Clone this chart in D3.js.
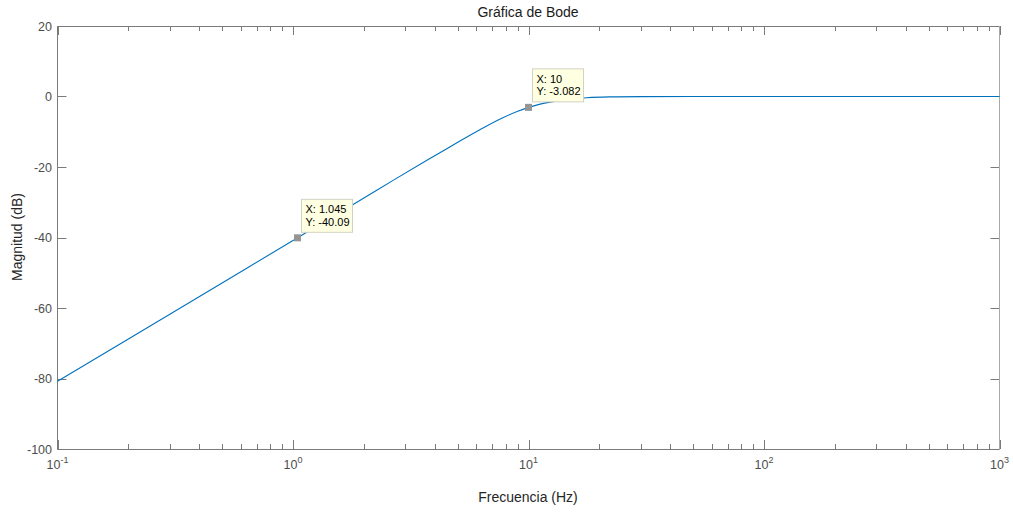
<!DOCTYPE html>
<html>
<head>
<meta charset="utf-8">
<script src="https://cdn.jsdelivr.net/npm/d3@7"></script>
<style>
  html, body { margin: 0; padding: 0; background: #fff; }
  svg { display: block; font-family: "Liberation Sans", Arial, Helvetica, sans-serif; }
</style>
</head>
<body>
<div id="chart"></div>
<script>
// Magnitude response
const freqs = [0.1, 0.2, 0.5, 1, 1.045, 1.5, 2, 2.66, 3.75, 4.5, 5.64, 6.5, 7.82, 9, 10, 11, 12.7, 15, 17.7, 22, 30, 50, 100, 1000];
const magDb = [-80.8, -68.8, -52.9, -40.85, -40.09, -33.8, -28.8, -23.8, -17.9, -14.8, -11.0, -8.7, -5.95, -4.2, -3.08, -2.3, -1.45, -0.75, -0.35, -0.12, -0.03, 0, 0, 0];

// Data tips shown on the curve
const tipX = [1.045, 10];
const tipY = [-40.09, -3.082];
const tipLabels = [["X: 1.045", "Y: -40.09"], ["X: 10", "Y: -3.082"]];

const xMajor = [0.1, 1, 10, 100, 1000];
const xExp = ["-1", "0", "1", "2", "3"];
const yTicks = [-100, -80, -60, -40, -20, 0, 20];

const width = 1013, height = 512;
const pLeft = 57.5, pRight = 999.5, pTop = 26, pBottom = 449;

const lineBlue = "#0072bd";
const axisGrey = "#7a7a7a";
const textGrey = "#4d4d4d";

const svg = d3.select("#chart").append("svg")
    .attr("width", width).attr("height", height)
    .attr("viewBox", `0 0 ${width} ${height}`);

const x = d3.scaleLog().domain([0.1, 1000]).range([pLeft, pRight]);
const y = d3.scaleLinear().domain([-100, 20]).range([pBottom, pTop]);

// minor ticks of each decade
const xMinor = [];
for (let d = 0; d < 4; d++) {
    for (let k = 2; k <= 9; k++) xMinor.push(0.1 * Math.pow(10, d) * k);
}

// --- ticks (inward, MATLAB style) ---
const tickLayer = svg.append("g").attr("stroke", axisGrey).attr("stroke-width", 1);

function vTicks(vals, len) {
    tickLayer.selectAll(null).data(vals).enter().append("line")
        .attr("x1", d => Math.round(x(d)) + 0.5).attr("x2", d => Math.round(x(d)) + 0.5)
        .attr("y1", pBottom).attr("y2", pBottom - len);
    tickLayer.selectAll(null).data(vals).enter().append("line")
        .attr("x1", d => Math.round(x(d)) + 0.5).attr("x2", d => Math.round(x(d)) + 0.5)
        .attr("y1", pTop).attr("y2", pTop + len);
}
vTicks(xMinor, 5);
vTicks(xMajor, 9);

tickLayer.selectAll(null).data(yTicks).enter().append("line")
    .attr("x1", pLeft).attr("x2", pLeft + 9)
    .attr("y1", d => Math.round(y(d)) + 0.5).attr("y2", d => Math.round(y(d)) + 0.5);
tickLayer.selectAll(null).data(yTicks).enter().append("line")
    .attr("x1", pRight).attr("x2", pRight - 9)
    .attr("y1", d => Math.round(y(d)) + 0.5).attr("y2", d => Math.round(y(d)) + 0.5);

// --- box ---
svg.append("line").attr("x1", pLeft).attr("x2", pLeft).attr("y1", pTop).attr("y2", pBottom + 0.5).attr("stroke", axisGrey);
svg.append("line").attr("x1", pLeft).attr("x2", pRight).attr("y1", pBottom + 0.5).attr("y2", pBottom + 0.5).attr("stroke", axisGrey);
svg.append("line").attr("x1", pLeft).attr("x2", pRight).attr("y1", pTop + 0.5).attr("y2", pTop + 0.5).attr("stroke", axisGrey);
svg.append("line").attr("x1", pRight).attr("x2", pRight).attr("y1", pTop).attr("y2", pBottom + 0.5).attr("stroke", "#a8a8a8");

// --- tick labels ---
svg.append("g").selectAll("text").data(yTicks).enter().append("text")
    .attr("x", 52).attr("y", d => y(d) + 4.5)
    .attr("text-anchor", "end").attr("font-size", "12.5px").attr("fill", textGrey)
    .text(d => d);

const xl = svg.append("g").selectAll("text").data(xMajor).enter().append("text")
    .attr("x", d => x(d)).attr("y", 469)
    .attr("text-anchor", "middle").attr("font-size", "12.5px").attr("fill", textGrey);
xl.append("tspan").text("10");
xl.append("tspan").attr("dy", -6).attr("font-size", "9px").text((d, i) => xExp[i]);

// --- titles ---
svg.append("text").attr("x", 528).attr("y", 17).attr("text-anchor", "middle")
    .attr("font-size", "14px").attr("fill", "#1a1a1a").text("Gráfica de Bode");
svg.append("text").attr("x", 528).attr("y", 502).attr("text-anchor", "middle")
    .attr("font-size", "14px").attr("fill", "#262626").text("Frecuencia (Hz)");
svg.append("text").attr("transform", "translate(22, 237) rotate(-90)").attr("text-anchor", "middle")
    .attr("font-size", "14px").attr("fill", "#262626").text("Magnitud (dB)");

// --- curve ---
const line = d3.line()
    .x((d, i) => x(freqs[i]))
    .y(d => y(d))
    .curve(d3.curveMonotoneX);

svg.append("path").datum(magDb)
    .attr("d", line)
    .attr("fill", "none").attr("stroke", lineBlue).attr("stroke-width", 1.1);

// --- data tips ---
const tips = svg.append("g").selectAll("g").data(tipX).enter().append("g")
    .attr("transform", (d, i) => `translate(${x(d)}, ${y(tipY[i])})`);

tips.append("rect").attr("x", 4).attr("y", -38.5).attr("width", 51).attr("height", 33)
    .attr("fill", "#ffffe1").attr("stroke", "#d2d2c4").attr("stroke-width", 1);
tips.append("text").attr("x", 8).attr("y", -24.5).attr("font-size", "11px").attr("fill", "#000")
    .text((d, i) => tipLabels[i][0]);
tips.append("text").attr("x", 8).attr("y", -12).attr("font-size", "11px").attr("fill", "#000")
    .text((d, i) => tipLabels[i][1]);
tips.append("rect").attr("x", -3.5).attr("y", -3.5).attr("width", 7).attr("height", 7)
    .attr("fill", "#959595");
</script>
</body>
</html>
